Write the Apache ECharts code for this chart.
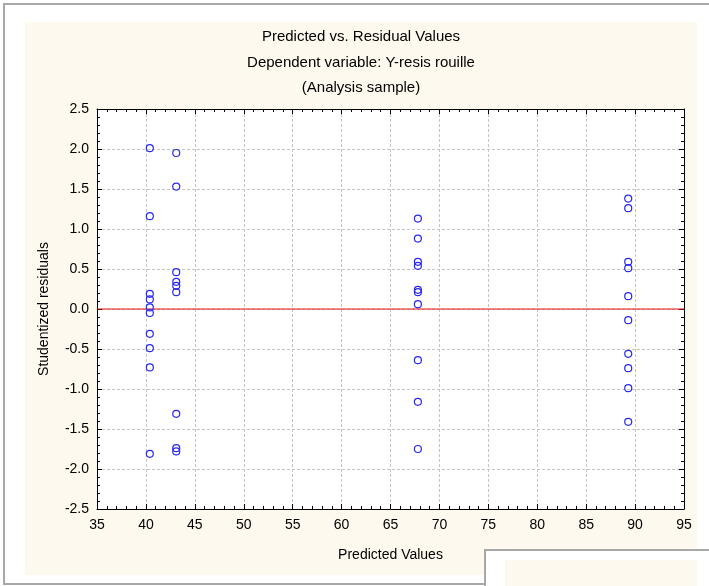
<!DOCTYPE html>
<html>
<head>
<meta charset="utf-8">
<script src="https://cdn.jsdelivr.net/npm/echarts@6/dist/echarts.min.js"></script>
<style>html,body{margin:0;padding:0;background:#fff;}#c{width:709px;height:586px;}</style>
</head>
<body>
<div id="c"></div>
<script>
// Predicted values (x) and studentized residuals (y), grouped by predicted level
var predicted1 = [40.4, 40.4, 40.4, 40.4, 40.4, 40.4, 40.4, 40.4, 40.4, 40.4];
var residuals1 = [2.01, 1.16, 0.19, 0.12, 0.02, -0.05, -0.31, -0.49, -0.73, -1.81];
var predicted2 = [43.1, 43.1, 43.1, 43.1, 43.1, 43.1, 43.1, 43.1, 43.1];
var residuals2 = [1.95, 1.53, 0.46, 0.34, 0.29, 0.21, -1.31, -1.74, -1.78];
var predicted3 = [67.8, 67.8, 67.8, 67.8, 67.8, 67.8, 67.8, 67.8, 67.8, 67.8];
var residuals3 = [1.13, 0.88, 0.59, 0.54, 0.24, 0.21, 0.06, -0.64, -1.16, -1.75];
var predicted4 = [89.3, 89.3, 89.3, 89.3, 89.3, 89.3, 89.3, 89.3, 89.3, 89.3];
var residuals4 = [1.38, 1.26, 0.59, 0.51, 0.16, -0.14, -0.56, -0.74, -0.99, -1.41];
var titleLines = ['Predicted vs. Residual Values', 'Dependent variable: Y-resis rouille', '(Analysis sample)'];
var xName = 'Predicted Values';
var yName = 'Studentized residuals';
var xMin = 35, xMax = 95, xStep = 5;
var yMin = -2.5, yMax = 2.5, yStep = 0.5;
var refLine = 0;

function pairs(xs, ys) { return xs.map(function (x, i) { return [x, ys[i]]; }); }
var points = [].concat(pairs(predicted1, residuals1), pairs(predicted2, residuals2),
                       pairs(predicted3, residuals3), pairs(predicted4, residuals4));

var FONT = 'Liberation Sans, Arial, sans-serif';
var chart = echarts.init(document.getElementById('c'), null, {renderer: 'canvas'});

var tickCommon = {show: true, inside: true, length: 5, lineStyle: {color: '#000'}};
var minorCommon = {show: true, splitNumber: 5, length: 3, lineStyle: {color: '#000'}};
var lineCommon = {show: true, onZero: false, lineStyle: {color: '#000', width: 1}};
var splitCommon = {show: true, lineStyle: {color: '#c4c4c4', type: [3, 2], width: 1}};

var graphics = [
  {type: 'rect', z: -10, shape: {x: 4, y: 4, width: 720, height: 580}, style: {fill: '#fff', stroke: '#a8a8a8', lineWidth: 2}},
  {type: 'rect', z: -9, shape: {x: 25, y: 22, width: 672, height: 553}, style: {fill: '#fdf9ee'}},
  {type: 'rect', z: -8, shape: {x: 485, y: 550, width: 240, height: 50}, style: {fill: '#fff', stroke: '#a8a8a8', lineWidth: 2}},
  {type: 'rect', z: -7, shape: {x: 505, y: 560, width: 192, height: 40}, style: {fill: '#fdf9ee'}}
];
titleLines.forEach(function (t, i) {
  graphics.push({type: 'text', z: 5, style: {text: t, x: 361, y: 37 + i * 25.5, textAlign: 'center', textVerticalAlign: 'middle', font: '15px ' + FONT, fill: '#000'}});
});

chart.setOption({
  animation: false,
  backgroundColor: '#fff',
  graphic: {elements: graphics},
  grid: {left: 97, right: 25, top: 109, bottom: 77, show: true, backgroundColor: '#fff', borderWidth: 0},
  xAxis: [
    {type: 'value', min: xMin, max: xMax, interval: xStep, position: 'bottom',
     axisLine: lineCommon, axisTick: tickCommon, minorTick: minorCommon, splitLine: splitCommon,
     axisLabel: {color: '#000', fontSize: 14, fontFamily: FONT, margin: 9},
     name: xName, nameLocation: 'middle', nameGap: 39, nameTextStyle: {color: '#000', fontSize: 14, fontFamily: FONT}},
    {type: 'value', min: xMin, max: xMax, interval: xStep, position: 'top',
     axisLine: lineCommon, axisTick: tickCommon, minorTick: minorCommon, splitLine: {show: false}, axisLabel: {show: false}}
  ],
  yAxis: [
    {type: 'value', min: yMin, max: yMax, interval: yStep, position: 'left',
     axisLine: lineCommon, axisTick: tickCommon, minorTick: minorCommon, splitLine: splitCommon,
     axisLabel: {color: '#000', fontSize: 14, fontFamily: FONT, margin: 8, formatter: function (v) { return v.toFixed(1); }},
     name: yName, nameLocation: 'middle', nameGap: 46, nameTextStyle: {color: '#000', fontSize: 14, fontFamily: FONT}},
    {type: 'value', min: yMin, max: yMax, interval: yStep, position: 'right',
     axisLine: lineCommon, axisTick: tickCommon, minorTick: minorCommon, splitLine: {show: false}, axisLabel: {show: false}}
  ],
  series: [
    {type: 'line', xAxisIndex: 0, yAxisIndex: 0, symbol: 'none', silent: true, z: 3,
     lineStyle: {color: '#e41010', width: 1}, data: [[xMin, refLine], [xMax, refLine]]},
    {type: 'scatter', xAxisIndex: 0, yAxisIndex: 0, z: 4,
     symbol: 'circle', symbolSize: 7,
     itemStyle: {color: 'rgba(0,0,0,0)', borderColor: '#2828f0', borderWidth: 1.2, opacity: 1},
     data: points}
  ]
});
</script>
</body>
</html>
